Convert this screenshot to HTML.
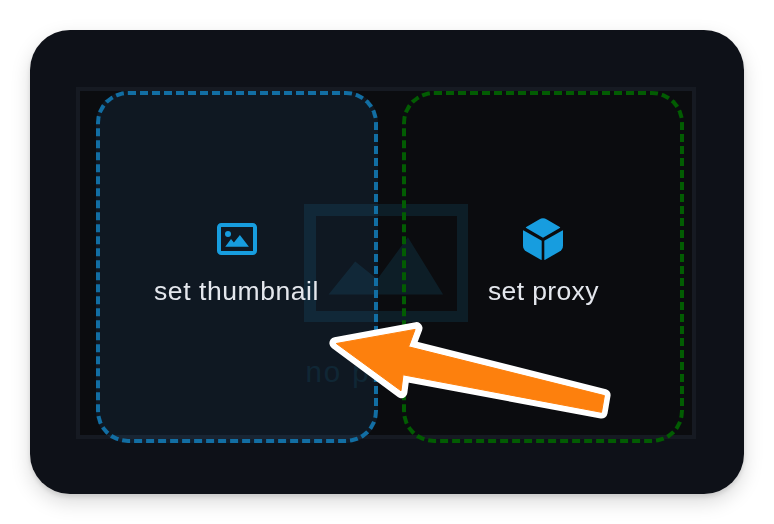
<!DOCTYPE html>
<html>
<head>
<meta charset="utf-8">
<title>set thumbnail / set proxy</title>
<style>
  html, body { margin: 0; padding: 0; }
  body {
    width: 774px; height: 524px; overflow: hidden; background: #ffffff; position: relative;
    font-family: "Liberation Sans", sans-serif;
  }
  .card {
    position: absolute; left: 30px; top: 30px; width: 714px; height: 464px;
    background: #0e1118; border-radius: 40px;
    box-shadow: 0 3px 4px rgba(0,0,0,0.10), 0 8px 20px rgba(0,0,0,0.15);
  }
  .panel {
    position: absolute; left: 76px; top: 87px; width: 612px; height: 344px;
    border: 4px solid #161a22; background: #0b0c0f;
  }
  .drop {
    position: absolute; top: 91px; width: 274px; height: 344px;
    border: 4px dashed; border-radius: 32px;
  }
  .drop.thumb { left: 96px; border-color: #126ea3; background: rgba(61,142,205,0.10); }
  .drop.proxy { left: 402px; border-color: #025c02; background: transparent; }
  .label {
    position: absolute; color: #e4e7ed; font-size: 26.5px; line-height: 30px; white-space: nowrap;
    will-change: transform;
  }
  svg { position: absolute; left: 0; top: 0; }
</style>
</head>
<body>
  <div class="card"></div>
  <div class="panel"></div>

  <!-- faint "no preview" placeholder -->
  <svg width="774" height="524" viewBox="0 0 774 524">
    <g fill="#1c9acf" opacity="0.125">
      <path fill-rule="evenodd" d="M304 204H468V322H304Z M316 216V311H457V216Z"/>
      <path d="M328.600 294.400L355.200 261.500L377.300 279.300L407.900 237.200L443.100 294.400Z"/>
    </g>
    <text x="305.500" y="381.500" font-family="Liberation Sans, sans-serif" font-size="29.500" letter-spacing="1.900" fill="#1c9acf" opacity="0.11">no preview</text>
  </svg>

  <div class="drop thumb"></div>
  <div class="drop proxy"></div>

  <svg width="774" height="524" viewBox="0 0 774 524">
    <!-- image icon -->
    <g>
      <rect x="219" y="225" width="36" height="28" rx="2.300" ry="2.300" fill="none" stroke="#179ddf" stroke-width="4"/>
      <circle cx="228" cy="234" r="3" fill="#179ddf"/>
      <path d="M225.200 246.800L231 239L233.900 242.600L239.900 235L248.900 246.800Z" fill="#179ddf"/>
    </g>
    <!-- cube icon -->
    <g fill="#179ddf">
      <path d="M539.11 219.45Q543.00 217.20 546.89 219.45L559.76 226.90Q560.80 227.50 559.76 228.10L543.43 237.55Q543.00 237.80 542.57 237.55L526.24 228.10Q525.20 227.50 526.24 226.90Z"/>
      <path d="M523.00 230.80Q523.00 230.00 523.70 230.39L541.35 240.40Q541.70 240.60 541.70 241.00L541.70 259.30Q541.70 260.30 540.83 259.80L526.46 251.50Q523.00 249.50 523.00 245.50Z"/>
      <path d="M562.30 230.39Q563.00 230.00 563.00 230.80L563.00 245.50Q563.00 249.50 559.54 251.50L545.17 259.80Q544.30 260.30 544.30 259.30L544.30 241.00Q544.30 240.60 544.65 240.40Z"/>
    </g>
    <!-- arrow -->
    <path d="M335.400 343.100L416.500 328.100L409.700 346L604.600 395.100L601.600 412.600L403.600 375.600L401.400 392.200Z"
          fill="#ffffff" stroke="#ffffff" stroke-width="12" stroke-linejoin="round"/>
    <path d="M336.300 343.500L415.100 329.400L408.600 346.800L604.400 395.600L601.500 412.300L403 374.800L401 390.800Z"
          fill="#fd800d" stroke="#fd800d" stroke-width="1" stroke-linejoin="round"/>
  </svg>

  <div class="label" id="l1" style="left:154.3px; top:276px; letter-spacing:0.57px;">set thumbnail</div>
  <div class="label" id="l2" style="left:488px; top:276px; letter-spacing:0.36px;">set proxy</div>
</body>
</html>
